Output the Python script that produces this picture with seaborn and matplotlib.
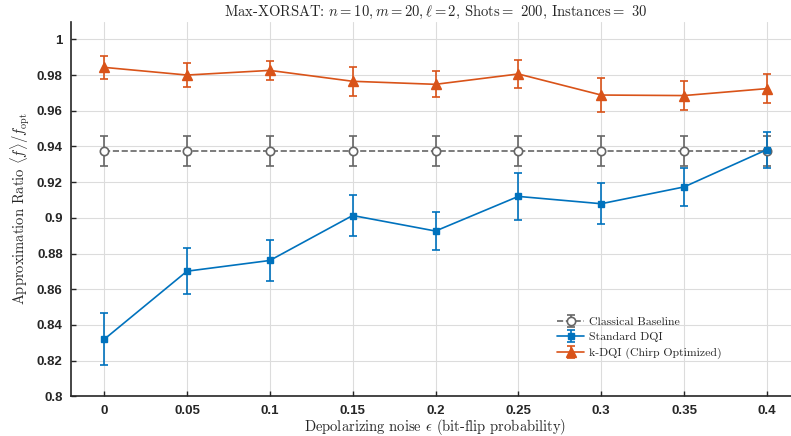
import numpy as np
import matplotlib
matplotlib.use("Agg")
import matplotlib.pyplot as plt
import seaborn as sns

# ==============================
# Data
# ==============================

noise = [0, 0.05, 0.1, 0.15, 0.2, 0.25, 0.3, 0.35, 0.4]

baseline_mean = [0.9373] * 9
baseline_err = [0.0084] * 9

dqi_mean = [0.8319, 0.8701, 0.8761, 0.9013, 0.8926, 0.9120, 0.9079, 0.9173, 0.9382]
dqi_err = [0.0145, 0.0130, 0.0115, 0.0113, 0.0107, 0.0132, 0.0116, 0.0108, 0.0101]

kdqi_mean = [0.9843, 0.9800, 0.9826, 0.9765, 0.9748, 0.9806, 0.9688, 0.9685, 0.9724]
kdqi_err = [0.0063, 0.0067, 0.0055, 0.0081, 0.0072, 0.0081, 0.0095, 0.0080, 0.0083]

# ==============================
# Style
# ==============================

sns.set_style("whitegrid")
plt.rcParams["mathtext.fontset"] = "cm"
plt.rcParams["axes.formatter.use_mathtext"] = True

serif = {"family": "cmr10"}
c_base = "#666666"
c_dqi = "#0072BD"
c_kdqi = "#D95319"

fig = plt.figure(figsize=(7.91, 4.36), dpi=100)
ax = fig.add_axes([71 / 791, (436 - 396.3) / 436, 729 / 791, 374.8 / 436])

ax.errorbar(noise, baseline_mean, yerr=baseline_err, color=c_base, ls="--",
            lw=1.2, marker="o", ms=6, mfc="white", mec=c_base, mew=1.2,
            capsize=3, elinewidth=1.2, capthick=1.2, label="Classical Baseline")
ax.errorbar(noise, dqi_mean, yerr=dqi_err, color=c_dqi, lw=1.2,
            marker="s", ms=5, capsize=3, elinewidth=1.2, capthick=1.2,
            label="Standard DQI")
ax.errorbar(noise, kdqi_mean, yerr=kdqi_err, color=c_kdqi, lw=1.2,
            marker="^", ms=6.5, capsize=3, elinewidth=1.2, capthick=1.2,
            label="k-DQI (Chirp Optimized)")

ax.set_xlim(-0.02, 0.42)
ax.set_ylim(0.8, 1.01)
ax.set_xticks(noise)
ax.set_xticklabels(["0", "0.05", "0.1", "0.15", "0.2", "0.25", "0.3", "0.35", "0.4"])
ax.set_yticks(np.arange(0.8, 1.001, 0.02))
ax.set_yticklabels(["0.8", "0.82", "0.84", "0.86", "0.88", "0.9",
                    "0.92", "0.94", "0.96", "0.98", "1"])

for lab in ax.get_xticklabels() + ax.get_yticklabels():
    lab.set_fontfamily("Liberation Sans")
    lab.set_fontweight("bold")
    lab.set_fontsize(9.5)
    lab.set_color("#262626")

ax.tick_params(direction="in", length=3.5, width=1, color="#262626",
               bottom=True, left=True, pad=6)
ax.grid(True, color="#dcdcdc", lw=0.8)

for side in ["top", "right"]:
    ax.spines[side].set_visible(False)
for side in ["left", "bottom"]:
    ax.spines[side].set_color("#262626")
    ax.spines[side].set_linewidth(1.2)

ax.set_title(r"Max-XORSAT: $n=10, m=20, \ell=2$, Shots$=$ 200, Instances$=$ 30",
             fontdict=serif, fontsize=10.5, pad=4)
ax.set_xlabel(r"Depolarizing noise $\epsilon$ (bit-flip probability)",
              fontdict=serif, fontsize=10.5, labelpad=0)
ax.set_ylabel(r"Approximation Ratio $\langle f \rangle / f_{\rm opt}$",
              fontdict=serif, fontsize=10.5, labelpad=3)

ax.legend(loc="center left", bbox_to_anchor=(0.667, 0.156), frameon=False,
          prop={"family": "cmr10", "size": 8.5}, borderpad=0, borderaxespad=0,
          handlelength=2.3, handletextpad=0.4, labelspacing=0.45)

fig.savefig("out.png", dpi=100)
